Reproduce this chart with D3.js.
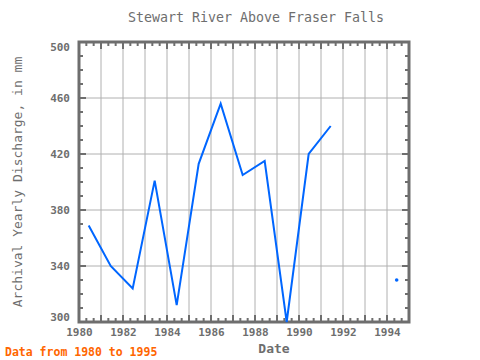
<!DOCTYPE html>
<html><head><meta charset="utf-8">
<script src="https://cdn.jsdelivr.net/npm/d3@7"></script>
<style>body{margin:0;background:#fff}svg{display:block}</style>
</head><body>
<svg id="c" width="480" height="360"></svg>
<script>
const years = [1980,1981,1982,1983,1984,1985,1986,1987,1988,1989,1990,1991,1992,1993,1994];
const values = [369,340,324,401,312,413,456,405,415,300,420,440,null,null,330];
const xTickLabels = ["1980","1982","1984","1986","1988","1990","1992","1994"];
const yTickLabels = ["300","340","380","420","460","500"];
const dateOffset = 0.44;

const svg = d3.select("#c");
const L=79, R=409, T=42, B=322;
const x = d3.scaleLinear().domain([1980,1995]).range([L,R]);
const y = d3.scaleLinear().domain([300,500]).range([B,T]);
const gray="#6e6e6e", grid="#b0b0b0", font="'DejaVu Sans Mono', monospace";

// grid
const g = svg.append("g");
g.selectAll(".vg").data(d3.range(1981,1995)).enter().append("line")
 .attr("x1",d=>x(d)).attr("x2",d=>x(d)).attr("y1",T).attr("y2",B)
 .attr("stroke",grid).attr("stroke-width",1);
g.selectAll(".hg").data(d3.range(340,500,40)).enter().append("line")
 .attr("x1",L).attr("x2",R).attr("y1",d=>y(d)).attr("y2",d=>y(d))
 .attr("stroke",grid).attr("stroke-width",1);

// ticks
const xMinor = d3.range(0,45).map(i=>1980+i/3).filter(v=>Math.abs(v-Math.round(v))>0.01);
const xMajor = d3.range(1981,1995);
function tickLines(data,len,isX){
  data.forEach(v=>{
    if(isX){
      g.append("line").attr("x1",x(v)).attr("x2",x(v)).attr("y1",T).attr("y2",T+len).attr("stroke",gray).attr("stroke-width",2);
      g.append("line").attr("x1",x(v)).attr("x2",x(v)).attr("y1",B).attr("y2",B-len).attr("stroke",gray).attr("stroke-width",2);
    } else {
      g.append("line").attr("y1",y(v)).attr("y2",y(v)).attr("x1",L).attr("x2",L+len).attr("stroke",gray).attr("stroke-width",2);
      g.append("line").attr("y1",y(v)).attr("y2",y(v)).attr("x1",R).attr("x2",R-len).attr("stroke",gray).attr("stroke-width",2);
    }
  });
}
tickLines(xMinor,4,true);
tickLines(xMajor,7,true);
tickLines(d3.range(310,500,10).filter(v=>(v-300)%40!==0),4,false);
tickLines(d3.range(340,500,40),7,false);

// frame
svg.append("rect").attr("x",L).attr("y",T).attr("width",R-L).attr("height",B-T)
 .attr("fill","none").attr("stroke",gray).attr("stroke-width",3);

// axis labels
const xAxis = d3.axisBottom(x).tickValues(xTickLabels.map(Number)).tickFormat((d,i)=>xTickLabels[i]).tickSize(0).tickPadding(0);
const xa = svg.append("g").attr("transform",`translate(0,${B+6})`).call(xAxis);
xa.select(".domain").remove();
xa.selectAll("text").attr("font-family",font).attr("font-size",11).attr("font-weight","bold").attr("fill",gray).attr("dy","0.71em");
const yAxis = d3.axisLeft(y).tickValues(yTickLabels.map(Number)).tickFormat((d,i)=>yTickLabels[i]).tickSize(0).tickPadding(0);
const ya = svg.append("g").attr("transform",`translate(${L-9},0)`).call(yAxis);
ya.select(".domain").remove();
ya.selectAll("text").attr("font-family",font).attr("font-size",11).attr("font-weight","bold").attr("fill",gray)
  .attr("dy",d=> d===500 ? "0.75em" : d===300 ? "-0.15em" : "0.32em");

// data line
const pts = years.map((yr,i)=>({d:yr+dateOffset,v:values[i]}));
const line = d3.line().defined(p=>p.v!==null).x(p=>x(p.d)).y(p=>y(p.v));
svg.append("clipPath").attr("id","cp").append("rect").attr("x",L).attr("y",T).attr("width",R-L).attr("height",B-T+1);
svg.append("path").datum(pts).attr("d",line).attr("fill","none").attr("stroke","#0066ff").attr("stroke-width",2).attr("clip-path","url(#cp)");
pts.forEach((p,i)=>{
  if(p.v===null) return;
  const prev = i>0 ? pts[i-1].v : null, next = i<pts.length-1 ? pts[i+1].v : null;
  if(prev===null && next===null){
    svg.append("circle").attr("cx",x(p.d)).attr("cy",y(p.v)).attr("r",1.8).attr("fill","#0066ff");
  }
});

// texts
svg.append("text").attr("x",256).attr("y",22).attr("text-anchor","middle").attr("font-family",font).attr("font-size",13.3).attr("fill",gray).text("Stewart River Above Fraser Falls");
svg.append("text").attr("transform","translate(22,182) rotate(-90)").attr("text-anchor","middle").attr("font-family",font).attr("font-size",13).attr("fill",gray).text("Archival Yearly Discharge, in mm");
svg.append("text").attr("x",274).attr("y",353).attr("text-anchor","middle").attr("font-family",font).attr("font-size",13).attr("font-weight","bold").attr("fill",gray).text("Date");
svg.append("text").attr("x",5).attr("y",356).attr("font-family",font).attr("font-size",11.5).attr("font-weight","bold").attr("fill","#ff6600").text("Data from 1980 to 1995");
</script>
</body></html>
